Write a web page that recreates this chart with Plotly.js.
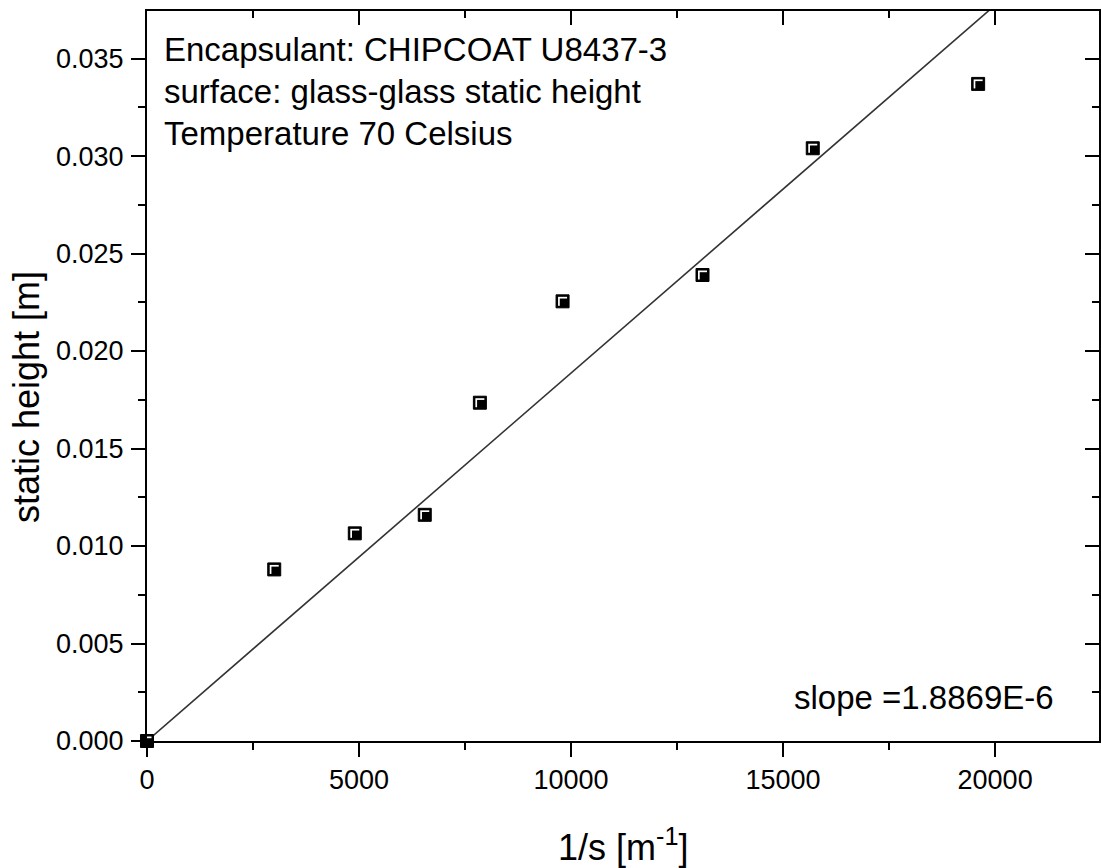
<!DOCTYPE html>
<html>
<head>
<meta charset="utf-8">
<script src="https://cdn.plot.ly/plotly-3.0.1.min.js"></script>
<style>html,body{margin:0;padding:0;background:#fff;}#chart{width:1101px;height:868px;}</style>
</head>
<body>
<div id="chart"></div>
<script>
// Measured data (1/s in m^-1, static height in m)
const invS = [0, 3000, 4900, 6550, 7850, 9800, 13100, 15700, 19600];
const staticHeight = [0.0000, 0.0088, 0.01065, 0.0116, 0.01735, 0.02255, 0.0239, 0.0304, 0.0337];
// Fitted line endpoints (slope = 1.8869E-6)
const fitX = [0, 20000];
const fitY = [0, 0.03774];

const xRange = [0, 22450];
const yRange = [0, 0.03744];

const infoLines = ["Encapsulant: CHIPCOAT U8437-3", "surface: glass-glass static height", "Temperature 70 Celsius"];
const slopeLabel = "slope =1.8869E-6";
const xTitle = "1/s [m<sup>-1</sup>]";
const yTitle = "static height [m]";

const FONT = "Liberation Sans, Arial, sans-serif";

// plot area in pixels (for the small marker highlight offset)
const plotW = 952, plotH = 730;
const dxPx = (xRange[1] - xRange[0]) / plotW;
const dyPx = (yRange[1] - yRange[0]) / plotH;

const traces = [
  {x: fitX, y: fitY, mode: 'lines', line: {color: '#333333', width: 1.6}, hoverinfo: 'skip', showlegend: false},
  {x: invS, y: staticHeight, mode: 'markers', cliponaxis: false,
   marker: {symbol: 'square', size: 13, color: '#000000', line: {color: '#000000', width: 1}}, showlegend: false},
  {x: invS, y: staticHeight, mode: 'markers', cliponaxis: true, hoverinfo: 'skip',
   marker: {symbol: 'square', size: 9, color: '#ffffff', line: {width: 0}}, showlegend: false},
  {x: invS, y: staticHeight, xaxis: 'x3', yaxis: 'y3', mode: 'markers', cliponaxis: true, hoverinfo: 'skip',
   marker: {symbol: 'square', size: 8, color: '#000000', line: {width: 0}}, showlegend: false},
  {x: invS, y: staticHeight, xaxis: 'x2', yaxis: 'y2', mode: 'markers', marker: {opacity: 0}, hoverinfo: 'skip', showlegend: false}
];

const axisCommon = {
  showgrid: false, zeroline: false, showline: true, linecolor: '#000', linewidth: 2,
  tickcolor: '#000', tickwidth: 2, ticklen: 14,
  tickfont: {family: FONT, size: 27, color: '#000'}
};

const annotations = [];
const lineY = [49, 91, 133];
infoLines.forEach((t, i) => {
  annotations.push({text: t, xref: 'paper', yref: 'paper', x: (162 - 147) / 952, y: (741 - lineY[i]) / 730,
    xanchor: 'left', yanchor: 'middle', showarrow: false, font: {family: FONT, size: 33, color: '#000'}});
});
annotations.push({text: slopeLabel, xref: 'paper', yref: 'paper', x: (1056 - 147) / 952, y: (741 - 697) / 730,
  xanchor: 'right', yanchor: 'middle', showarrow: false, font: {family: FONT, size: 33, color: '#000'}});
annotations.push({text: xTitle, xref: 'paper', yref: 'paper', x: 0.5, y: (741 - 845) / 730,
  xanchor: 'center', yanchor: 'middle', showarrow: false, font: {family: FONT, size: 36, color: '#000'}});
annotations.push({text: yTitle, xref: 'paper', yref: 'paper', x: (27 - 147) / 952, y: (741 - 397) / 730,
  xanchor: 'center', yanchor: 'middle', textangle: -90, showarrow: false, font: {family: FONT, size: 36, color: '#000'}});

const layout = {
  width: 1101, height: 868,
  margin: {l: 147, r: 2, t: 11, b: 127},
  paper_bgcolor: '#fff', plot_bgcolor: '#fff',
  font: {family: FONT, color: '#000'},
  showlegend: false,
  xaxis: Object.assign({}, axisCommon, {range: xRange, dtick: 5000, tick0: 0, ticks: 'outside', tickformat: 'd',
    minor: {dtick: 2500, ticklen: 7, tickwidth: 2, tickcolor: '#000', ticks: 'outside'}}),
  yaxis: Object.assign({}, axisCommon, {range: yRange, dtick: 0.005, tick0: 0, ticks: 'outside', tickformat: '.3f',
    ticklabelstandoff: 2,
    minor: {dtick: 0.0025, ticklen: 7, tickwidth: 2, tickcolor: '#000', ticks: 'outside'}}),
  xaxis2: Object.assign({}, axisCommon, {range: xRange, dtick: 5000, tick0: 0, ticks: 'inside', side: 'top',
    overlaying: 'x', showticklabels: false,
    minor: {dtick: 2500, ticklen: 7, tickwidth: 2, tickcolor: '#000', ticks: 'inside'}}),
  yaxis2: Object.assign({}, axisCommon, {range: yRange, dtick: 0.005, tick0: 0, ticks: 'inside', side: 'right',
    overlaying: 'y', showticklabels: false,
    minor: {dtick: 0.0025, ticklen: 7, tickwidth: 2, tickcolor: '#000', ticks: 'inside'}}),
  // hidden axes shifted 1.2px right / down, for the inner black part of each marker
  xaxis3: {overlaying: 'x', visible: false, range: [xRange[0] - 1.2 * dxPx, xRange[1] - 1.2 * dxPx]},
  yaxis3: {overlaying: 'y', visible: false, range: [yRange[0] + 1.2 * dyPx, yRange[1] + 1.2 * dyPx]},
  annotations: annotations
};

Plotly.newPlot('chart', traces, layout, {staticPlot: true, displayModeBar: false});
</script>
</body>
</html>
